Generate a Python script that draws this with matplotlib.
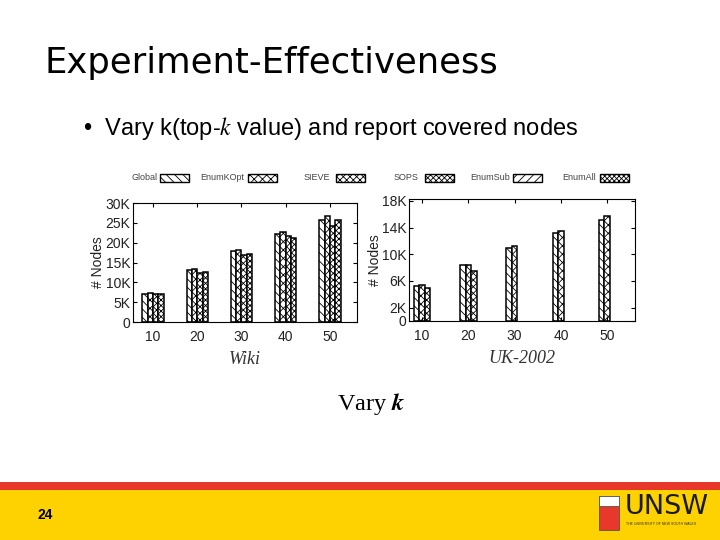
import numpy as np
import matplotlib
matplotlib.use('Agg')
import matplotlib.pyplot as plt
from matplotlib.patches import Rectangle

plt.rcParams['mathtext.fontset'] = 'stix'
plt.rcParams['hatch.linewidth'] = 0.6

k_values = ['10', '20', '30', '40', '50']
legend_names = ['Global', 'EnumKOpt', 'SIEVE', 'SOPS', 'EnumSub', 'EnumAll']
hatches = ['\\\\\\\\', 'xxxx', 'xxxxx', 'xxxxxx', '////', 'xxxxxxx']

# Wiki, 4 bars per group (K nodes)
wiki_global = [7.0, 13.1, 17.9, 22.1, 25.8]
wiki_enumkopt = [7.4, 13.3, 18.2, 22.7, 26.6]
wiki_sieve = [7.0, 12.3, 16.8, 21.8, 24.3]
wiki_sops = [7.0, 12.5, 17.1, 21.3, 25.6]

# UK-2002, 3 bars at k=10,20 then 2 bars
uk_global = [5.2, 8.4, 10.9, 13.2, 15.2]
uk_enumkopt = [5.4, 8.4, 11.3, 13.45, 15.8]
uk_sieve = [5.0, 7.5, np.nan, np.nan, np.nan]

fig = plt.figure(figsize=(7.2, 5.4), dpi=100)

# slide text
fig.text(45 / 720, 1 - 63 / 540, 'Experiment-Effectiveness', fontsize=25.5,
         family='DejaVu Sans', va='center', ha='left')
fig.text(83 / 720, 1 - 128 / 540, '•  Vary k(top-$k$ value) and report covered nodes',
         fontsize=17, family='Liberation Sans', va='center', ha='left')
fig.text(371 / 720, 1 - 404 / 540, 'Vary $\\boldsymbol{k}$', fontsize=17.5,
         family='Liberation Serif', va='center', ha='center')


def draw_panel(ax, series, names, ylim, yticks, ylabels, xlim, xlabel, nslots):
    x = np.arange(1, len(k_values) + 1)
    w = 0.12
    for i, (vals, name) in enumerate(zip(series, names)):
        off = (i - (nslots - 1) / 2) * w
        ax.bar(x + off, vals, w, color='white', edgecolor='black', linewidth=1.1,
               hatch=hatches[legend_names.index(name)])
    ax.set_xlim(*xlim)
    ax.set_ylim(*ylim)
    ax.set_xticks(x)
    ax.set_xticklabels(k_values, fontsize=10, family='Liberation Sans', color='#222222')
    ax.set_yticks(yticks)
    ax.set_yticklabels(ylabels, fontsize=10, family='Liberation Sans', color='#222222')
    ax.tick_params(direction='in', length=3, top=True, right=True, width=0.8, pad=2)
    ax.tick_params(axis='x', pad=6)
    ax.set_ylabel('# Nodes', fontsize=10, family='Liberation Sans', color='#222222', labelpad=0)
    ax.set_xlabel(xlabel, fontsize=13, family='Liberation Serif', style='italic',
                  color='#333333', labelpad=5)
    for s in ax.spines.values():
        s.set_linewidth(0.8)


ax1 = fig.add_axes([133 / 720, 1 - 322 / 540, 224 / 720, 119 / 540])
draw_panel(ax1, [wiki_global, wiki_enumkopt, wiki_sieve, wiki_sops],
           ['Global', 'EnumKOpt', 'SIEVE', 'SOPS'],
           (0, 30), [0, 5, 10, 15, 20, 25, 30], ['0', '5K', '10K', '15K', '20K', '25K', '30K'],
           (0.55, 5.61), 'Wiki', 4)

ax2 = fig.add_axes([409 / 720, 1 - 321 / 540, 226 / 720, 122 / 540])
draw_panel(ax2, [uk_global, uk_enumkopt, uk_sieve],
           ['Global', 'EnumKOpt', 'SIEVE'],
           (0, 18.3), [0, 2, 6, 10, 14, 18], ['0', '2K', '6K', '10K', '14K', '18K'],
           (0.72, 5.6), 'UK-2002', 3)

# legend row
leg_text_x = [131, 200, 304, 394, 470, 562]
leg_box_x = [160, 248, 336, 425, 513, 600]
for name, tx, bx in zip(legend_names, leg_text_x, leg_box_x):
    fig.text(tx / 720, 1 - 178 / 540, name, fontsize=6.5, family='Liberation Sans',
             color='#444444', va='center', ha='left')
    fig.patches.append(Rectangle((bx / 720, 1 - 182 / 540), 29 / 720, 8 / 540,
                                 transform=fig.transFigure, facecolor='white',
                                 edgecolor='black', linewidth=1.0,
                                 hatch=hatches[legend_names.index(name)]))

# footer
fig.patches.append(Rectangle((0, 0), 1, 50 / 540, transform=fig.transFigure,
                             facecolor='#FDD200', edgecolor='none'))
fig.patches.append(Rectangle((0, 50 / 540), 1, 8 / 540, transform=fig.transFigure,
                             facecolor='#E8382B', edgecolor='none'))
fig.text(37 / 720, 1 - 515 / 540, '24', fontsize=10, fontweight='bold',
         family='Liberation Sans', va='center', ha='left')
# crest
fig.patches.append(Rectangle((599 / 720, 1 - 530 / 540), 20 / 720, 34 / 540,
                             transform=fig.transFigure, facecolor='#E8382B',
                             edgecolor='#555555', linewidth=0.6))
fig.patches.append(Rectangle((599 / 720, 1 - 506 / 540), 20 / 720, 10 / 540,
                             transform=fig.transFigure, facecolor='white',
                             edgecolor='#555555', linewidth=0.6))
fig.text(625 / 720, 1 - 507 / 540, 'UNSW', fontsize=19.5, family='Liberation Sans Narrow',
         color='#1a1a1a', va='center', ha='left')
fig.text(626 / 720, 1 - 524 / 540, 'THE UNIVERSITY OF NEW SOUTH WALES', fontsize=2.5,
         family='Liberation Sans', color='#333333', va='center', ha='left')

fig.savefig('out.png', dpi=100)
